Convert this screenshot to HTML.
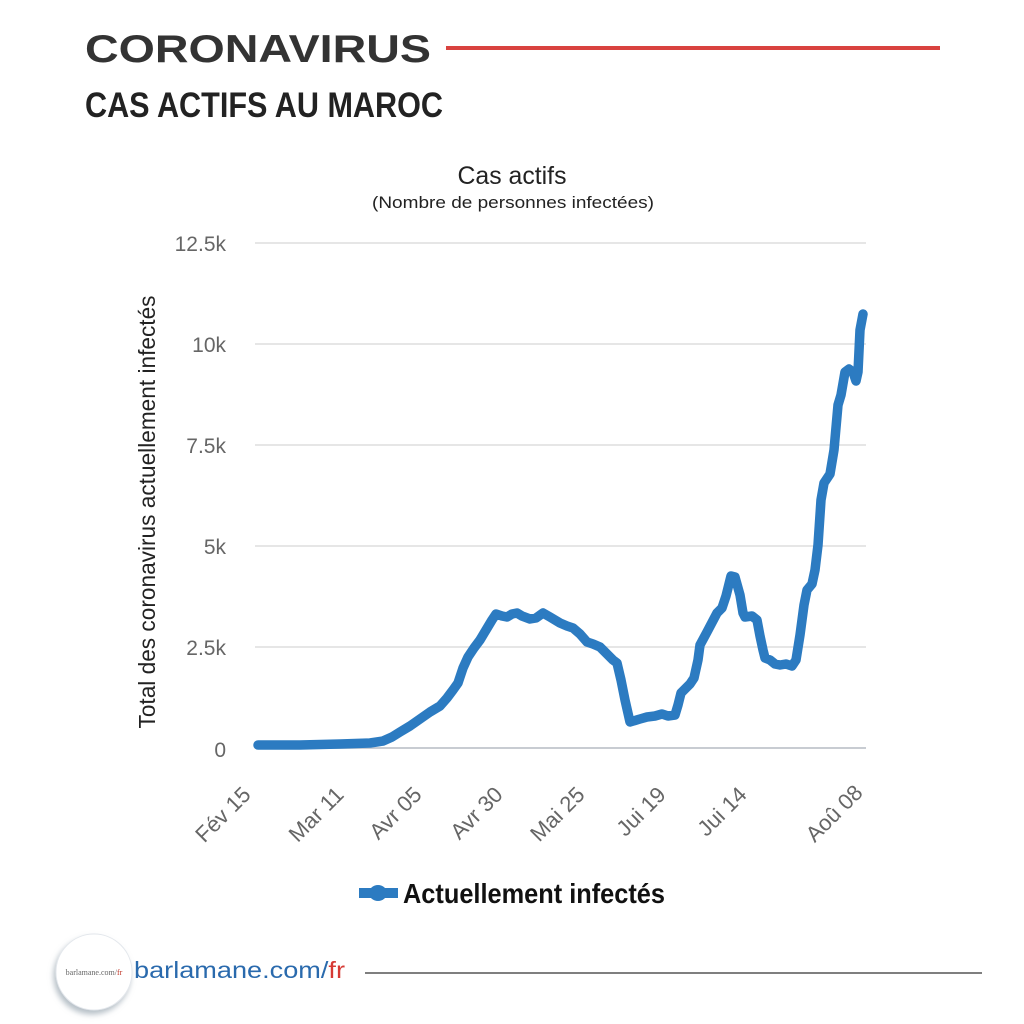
<!DOCTYPE html>
<html>
<head>
<meta charset="utf-8">
<style>
  html, body { margin:0; padding:0; background:#ffffff; }
  svg { display:block; }
</style>
</head>
<body>
<svg width="1024" height="1024" viewBox="0 0 1024 1024" xmlns="http://www.w3.org/2000/svg">
  <defs>
    <filter id="sh" x="-30%" y="-30%" width="160%" height="160%">
      <feDropShadow dx="-2" dy="4" stdDeviation="3" flood-color="#7a8a99" flood-opacity="0.55"/>
    </filter>
  </defs>
  <rect width="1024" height="1024" fill="#ffffff"/>

  <!-- Header -->
  <text x="85" y="62" font-family="Liberation Sans, sans-serif" font-weight="bold" font-size="39" fill="#333333" textLength="346" lengthAdjust="spacingAndGlyphs">CORONAVIRUS</text>
  <rect x="446" y="46" width="494" height="4" fill="#d9423f"/>
  <text x="85" y="117" font-family="Liberation Sans, sans-serif" font-weight="bold" font-size="35" fill="#222222" textLength="358" lengthAdjust="spacingAndGlyphs">CAS ACTIFS AU MAROC</text>

  <!-- Chart titles -->
  <text x="512" y="184" text-anchor="middle" font-family="Liberation Sans, sans-serif" font-size="25" fill="#222222" textLength="109" lengthAdjust="spacingAndGlyphs">Cas actifs</text>
  <text x="513" y="208" text-anchor="middle" font-family="Liberation Sans, sans-serif" font-size="17" fill="#222222" textLength="282" lengthAdjust="spacingAndGlyphs">(Nombre de personnes infectées)</text>

  <!-- Gridlines -->
  <g stroke="#dddddd" stroke-width="1.5">
    <line x1="255" y1="243" x2="866" y2="243"/>
    <line x1="255" y1="344" x2="866" y2="344"/>
    <line x1="255" y1="445" x2="866" y2="445"/>
    <line x1="255" y1="546" x2="866" y2="546"/>
    <line x1="255" y1="647" x2="866" y2="647"/>
  </g>
  <line x1="255" y1="748" x2="866" y2="748" stroke="#c8ccd2" stroke-width="2"/>

  <!-- Y labels -->
  <g font-family="Liberation Sans, sans-serif" font-size="21" fill="#666666" text-anchor="end">
    <text x="226" y="251">12.5k</text>
    <text x="226" y="352">10k</text>
    <text x="226" y="453">7.5k</text>
    <text x="226" y="554">5k</text>
    <text x="226" y="655">2.5k</text>
    <text x="226" y="757">0</text>
  </g>

  <!-- Y axis title -->
  <text transform="translate(155,512) rotate(-90)" text-anchor="middle" font-family="Liberation Sans, sans-serif" font-size="23" fill="#222222" textLength="433" lengthAdjust="spacingAndGlyphs">Total des coronavirus actuellement infectés</text>

  <!-- X labels -->
  <g font-family="Liberation Sans, sans-serif" font-size="22" fill="#666666" text-anchor="end">
    <text transform="translate(252,796) rotate(-45)">Fév 15</text>
    <text transform="translate(345,796) rotate(-45)">Mar 11</text>
    <text transform="translate(423,796) rotate(-45)">Avr 05</text>
    <text transform="translate(504,796) rotate(-45)">Avr  30</text>
    <text transform="translate(586,796) rotate(-45)">Mai 25</text>
    <text transform="translate(667,796) rotate(-45)">Jui 19</text>
    <text transform="translate(748,796) rotate(-45)">Jui 14</text>
    <text transform="translate(864,794) rotate(-45)">Aoû  08</text>
  </g>

  <!-- Series -->
  <polyline fill="none" stroke="#2c7bc1" stroke-width="9.5" stroke-linejoin="round" stroke-linecap="round"
    points="258,745 300,745 340,744 370,743 383,741 392,737 400,732 410,726 420,719 430,712 440,706 447,698 453,690 458,683 463,668 468,657 474,648 480,640 486,630 492,620 496,614 502,616 507,617 512,614 517,613 522,616 530,619 536,618 543,613 550,617 560,623 567,626 573,628 580,634 587,642 593,644 600,647 608,655 613,660 617,663 621,680 625,700 630,722 640,719 647,717 655,716 662,714 668,716 675,715 678,705 681,693 690,684 694,678 698,660 700,645 707,632 717,613 722,608 726,596 731,576 735,577 740,595 743,613 745,617 752,616 757,620 760,636 763,650 765,658 770,660 775,664 780,665 786,664 792,666 796,660 800,635 804,605 807,590 812,584 815,570 818,545 821,500 824,483 830,474 834,450 838,405 841,395 845,372 849,369 853,372 856,381 858,372 860,330 863,314"/>

  <!-- Legend -->
  <line x1="359" y1="893" x2="398" y2="893" stroke="#2c7bc1" stroke-width="10"/>
  <ellipse cx="378" cy="893" rx="9" ry="8" fill="#2c7bc1"/>
  <text x="403" y="903" font-family="Liberation Sans, sans-serif" font-weight="bold" font-size="28" fill="#111111" textLength="262" lengthAdjust="spacingAndGlyphs">Actuellement infectés</text>

  <!-- Footer -->
  <circle cx="94" cy="972" r="38" fill="#ffffff" stroke="#e3e7ec" stroke-width="1" filter="url(#sh)"/>
  <text x="94" y="975" text-anchor="middle" font-family="Liberation Serif, serif" font-size="8" fill="#666666">barlamane.com/<tspan fill="#c0392b">fr</tspan></text>
  <text x="134" y="978" font-family="Liberation Sans, sans-serif" font-size="23" fill="#2a6aad" textLength="211" lengthAdjust="spacingAndGlyphs">barlamane.com/<tspan fill="#d63a35">fr</tspan></text>
  <line x1="365" y1="973" x2="982" y2="973" stroke="#555555" stroke-width="1.5"/>
</svg>
</body>
</html>
